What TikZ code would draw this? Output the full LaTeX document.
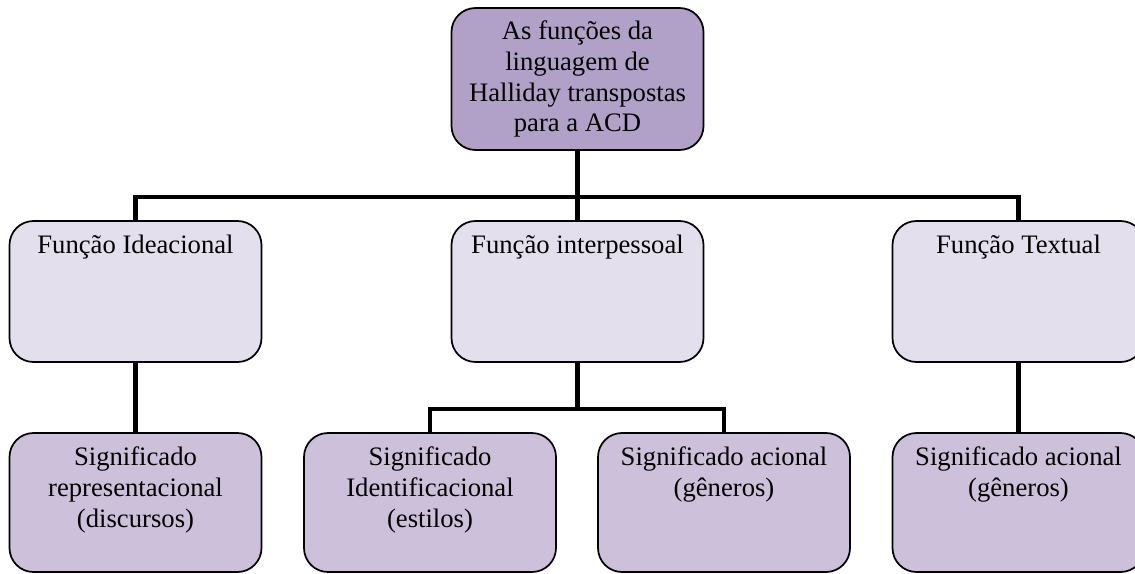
\documentclass[tikz,border=0pt]{standalone}
\usepackage{fontspec}
\setmainfont{Liberation Serif}
\definecolor{topfill}{HTML}{B1A0C7}
\definecolor{midfill}{HTML}{E4DFEC}
\definecolor{botfill}{HTML}{CCC0DA}
\begin{document}
\begin{tikzpicture}[x=0.75pt,y=-0.75pt,
  box/.style={draw=black, line width=1.3pt, rounded corners=18pt, inner sep=0pt, outer sep=0pt, minimum width=189pt},
  topbox/.style={box, fill=topfill, minimum height=106.5pt},
  midbox/.style={box, fill=midfill, minimum height=105.75pt},
  botbox/.style={box, fill=botfill, minimum height=104.25pt},
  txt/.style={anchor=base, inner sep=0pt, align=center, font=\fontsize{20pt}{23pt}\selectfont},
  conn/.style={line width=3.6pt, line cap=butt}
]
\useasboundingbox (0,0) rectangle (1135,574);
% boxes
\node[topbox] (top) at (577.5,79) {};
\node[midbox] (mleft) at (135.5,291.5) {};
\node[midbox] (mmid) at (577.5,291.5) {};
\node[midbox] (mright) at (1018.5,291.5) {};
\node[botbox] (b1) at (135.5,502.5) {};
\node[botbox] (b2) at (430,502.5) {};
\node[botbox] (b3) at (724,502.5) {};
\node[botbox] (b4) at (1018.5,502.5) {};
% connectors
\coordinate (bar) at (577.5,197);
\coordinate (bar2) at (577.5,409);
\draw[conn] (top.south) -- (mmid.north);
\draw[conn] (mleft.north) |- (bar) -| (mright.north);
\draw[conn] (mleft.south) -- (b1.north);
\draw[conn] (mmid.south) -- (bar2);
\draw[conn] (b2.north) |- (bar2) -| (b3.north);
\draw[conn] (mright.south) -- (b4.north);
% texts (anchor base = baseline of last line)
\node[txt] (ttop) at (577.5,132) {As funções da\\linguagem de\\Halliday transpostas\\para a ACD};
\node[txt] (tmleft) at (135.5,253) {Função Ideacional};
\node[txt] (tmmid) at (577.5,253) {Função interpessoal};
\node[txt] (tmright) at (1018.5,253) {Função Textual};
\node[txt] (tb1) at (135.5,527) {Significado\\representacional\\(discursos)};
\node[txt] (tb2) at (430,527) {Significado\\Identificacional\\(estilos)};
\node[txt] (tb3) at (724,496) {Significado acional\\(gêneros)};
\node[txt] (tb4) at (1018.5,496) {Significado acional\\(gêneros)};
\end{tikzpicture}
\end{document}
